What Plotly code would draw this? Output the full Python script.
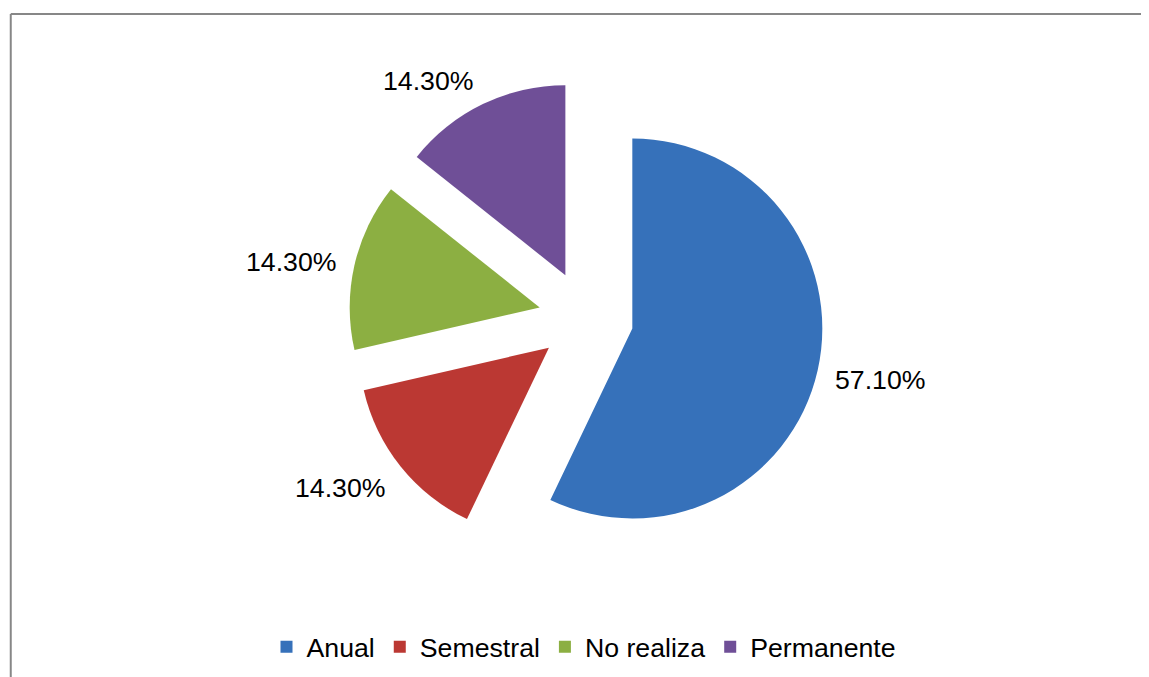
import math
import plotly.graph_objects as go

categories = ["Anual", "Semestral", "No realiza", "Permanente"]
values = [57.1, 14.3, 14.3, 14.3]
colors = ["#3671BA", "#BB3833", "#8CAF42", "#6F4F97"]

W, H = 1149, 677
FONT = "Liberation Sans, Arial, sans-serif"
FS = 26.7
PULL = 0.25

dom_x = [340.5 / W, 815.5 / W]
dom_y = [1 - 547.5 / H, 1 - 72.5 / H]

fig = go.Figure()
fig.add_trace(go.Pie(
    labels=categories,
    values=values,
    sort=False,
    direction="clockwise",
    rotation=0,
    pull=[PULL] * len(values),
    marker=dict(colors=colors, line=dict(width=0)),
    textinfo="none",
    domain=dict(x=dom_x, y=dom_y),
    hoverinfo="label+percent",
))

# data labels placed outside each slice along its mid-angle (same geometry plotly uses)
box_w = W * (dom_x[1] - dom_x[0])
box_h = H * (dom_y[1] - dom_y[0])
r = min(box_w, box_h) / (2 + 2 * PULL)
cx = W * (dom_x[0] + dom_x[1]) / 2
cy = H * (dom_y[0] + dom_y[1]) / 2
total = sum(values)
cum = 0.0
for v in values:
    mid = (cum + v / 2) / total
    cum += v
    th = 2 * math.pi * mid
    dx, dy = math.sin(th), math.cos(th)
    ox = cx + r * (1 + PULL) * dx
    oy = cy + r * (1 + PULL) * dy
    ax = ox + 16 * dx
    ay = oy + 29 * dy - 3
    fig.add_annotation(
        x=ax / W, y=ay / H, xref="paper", yref="paper",
        text=f"{v:.2f}%", showarrow=False,
        xanchor="left" if dx > 0 else "right", yanchor="middle",
        font=dict(family=FONT, size=FS, color="#000000"),
    )

# chart frame
fig.add_shape(type="line", xref="paper", yref="paper",
              x0=2.75 / W, x1=1.05, y0=1 - 6 / H, y1=1 - 6 / H,
              line=dict(color="#878787", width=2))
fig.add_shape(type="line", xref="paper", yref="paper",
              x0=2.75 / W, x1=2.75 / W, y0=1 - 6 / H, y1=-0.05,
              line=dict(color="#878787", width=2))

fig.update_layout(
    width=W, height=H,
    margin=dict(l=0, r=0, t=0, b=0, autoexpand=False),
    paper_bgcolor="white",
    plot_bgcolor="white",
    font=dict(family=FONT, size=FS, color="#000000"),
    showlegend=True,
    legend=dict(
        orientation="h",
        x=576 / W, xanchor="center",
        y=1 - 639 / H, yanchor="middle",
        font=dict(size=FS, family=FONT, color="#000000"),
        traceorder="normal",
    ),
)

fig.write_html("out.html")
